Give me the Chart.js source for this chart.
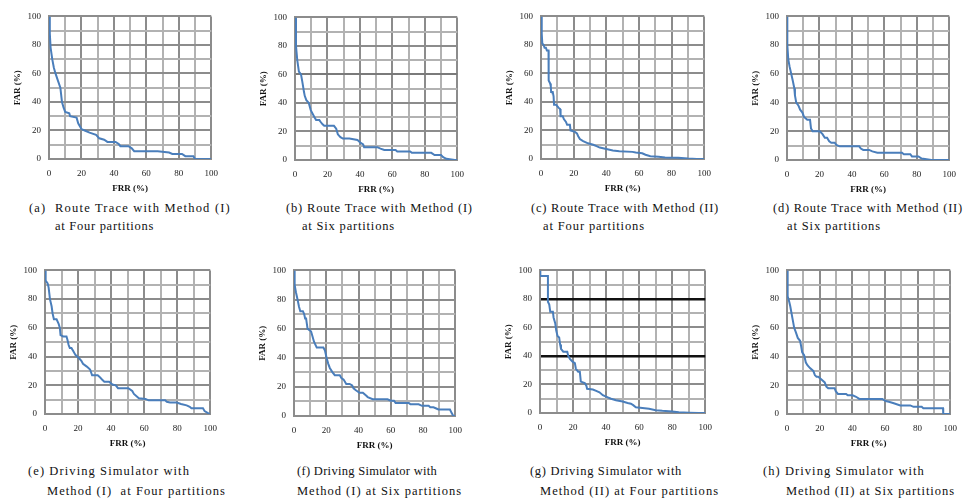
<!DOCTYPE html>
<html>
<head>
<meta charset="utf-8">
<script src="https://cdn.jsdelivr.net/npm/chart.js@4.4.1/dist/chart.umd.min.js"></script>
<style>
  body { margin: 0; width: 965px; height: 502px; background: #fff; position: relative; overflow: hidden; }
  canvas { position: absolute; }
  .cap { position: absolute; font-family: "Liberation Serif", "Times New Roman", serif; font-size: 12.5px;
         line-height: 15px; white-space: pre; color: #111; }
</style>
</head>
<body>
<script>
// FRR (x) / FAR (y) readings, in percent, for each of the eight panels

// (a) Route Trace, Method (I), four partitions
const aFrr = [0, 0.5, 1, 2, 3, 4, 5.5, 7, 8, 9, 10, 12.5, 13, 17, 18, 20, 22, 25, 29, 31, 34, 36, 41, 43, 44, 49, 51, 52.5, 67, 74, 76, 82, 84, 89, 90, 100];
const aFar = [100, 88, 78, 70, 64, 60, 55, 50, 40, 36, 33, 32, 30, 29, 25, 21, 20, 18.5, 17, 14.5, 13.5, 12, 12, 10.5, 9, 9, 7.5, 5.5, 5.5, 4.5, 3.5, 3.5, 2, 2, 0, 0];

// (b) Route Trace, Method (I), six partitions
const bFrr = [0, 0.6, 1.4, 2.4, 3.7, 4.5, 5.5, 6, 7, 8.5, 9.7, 12, 13, 15, 15.6, 17, 18, 24, 25.4, 26.4, 28, 29.5, 33.5, 38.5, 40.5, 42, 42.6, 50.7, 52.7, 55, 62, 63, 71, 72, 84, 86, 90, 91.3, 93.3, 98.5, 100];
const bFar = [100, 80, 70, 62, 60, 55, 48, 45, 42, 40, 35, 30, 28, 28, 27, 25, 24, 24, 22, 18, 16, 15, 15, 14, 12, 11, 9, 9, 8, 7, 7, 6, 6, 5, 5, 3.5, 3.5, 2, 0.8, 0, 0];

// (c) Route Trace, Method (II), four partitions
const cFrr = [0, 0.3, 0.6, 0.8, 1.6, 2.2, 3, 3.6, 4.6, 4.7, 5.6, 6, 6.2, 7.2, 7.7, 8, 9.3, 10.7, 11.7, 12, 13.3, 14, 15.3, 16, 17.7, 18.1, 20.8, 22, 22.8, 23.8, 25.8, 28.8, 32, 34, 36, 40, 44, 48, 56, 58, 62, 64, 67, 72, 76, 84, 90, 95.5, 100];
const cFar = [100, 88, 88, 81, 80, 78, 78, 76, 76, 55, 53, 51, 47, 47, 44, 38, 38, 36, 35, 30, 30, 28, 26, 24, 24, 20, 19, 18, 16, 14, 12.5, 11, 10, 9, 8, 7, 6, 5.5, 5, 4.5, 4, 3, 2, 1.5, 1, 0.8, 0.3, 0, 0];

// (d) Route Trace, Method (II), six partitions
const dFrr = [0, 0.2, 0.8, 1.6, 2.6, 3.6, 4.5, 4.9, 5.7, 7, 8.1, 9.5, 10.5, 12.5, 14.2, 14.8, 15.8, 20.2, 21.9, 23.3, 24.7, 26, 27.3, 29.4, 30.4, 32.4, 44.5, 45.5, 47, 50.6, 52.6, 55.7, 70.9, 72, 76, 77, 81, 83, 86, 89, 100];
const dFar = [100, 80, 70, 65, 60, 55, 50, 45, 40, 38, 35, 33, 30, 28, 28, 22, 20, 20, 18, 15.5, 15.5, 13, 12, 12, 10.5, 9.5, 9.5, 8, 7, 7, 6, 5, 5, 4, 4, 2.5, 2.5, 1, 0.5, 0, 0];

// (e) Driving Simulator, Method (I), four partitions
const eFrr = [0, 0.4, 1.6, 2.2, 3, 4, 4.6, 5.4, 7, 8.2, 9, 9.4, 11, 13, 13.5, 14.3, 15, 16, 17, 18.5, 20.5, 22, 23, 25.3, 27.3, 28.5, 31.9, 32.9, 34.5, 35.9, 38.8, 40.8, 42.8, 44.2, 50.4, 52.8, 53.8, 56.8, 60.8, 62.7, 72.7, 73.7, 75.7, 79.7, 82.3, 85.7, 87.6, 88.6, 95.6, 96.6, 99.6, 100];
const eFar = [100, 93, 91, 88, 80, 75, 70, 66, 66, 63, 60, 55, 54, 54, 52, 48, 46, 46, 44, 41, 39, 37, 35, 33, 31, 27, 27, 26, 24, 22.5, 22.5, 20.5, 20, 18, 18, 16, 14, 11, 10.5, 9.5, 9.5, 8.5, 8, 8, 7, 6, 5, 4, 4, 2, 0, 0];

// (f) Driving Simulator, Method (I), six partitions
const fFrr = [0, 0.4, 1.2, 2.2, 3.1, 3.9, 5.5, 6.3, 6.9, 7.5, 8.4, 9.6, 10.6, 11.4, 12.4, 14.1, 18.2, 19.2, 20.2, 21.2, 22.2, 23.9, 25.3, 28.4, 29.4, 30.8, 32.4, 34.5, 36.1, 36.9, 38.6, 40.6, 42.7, 44.7, 45.7, 48.8, 58, 60, 62, 63, 71.2, 72.2, 77.3, 79.4, 83.5, 84.5, 86.5, 88.6, 89.6, 96.7, 97.8, 98.8, 100];
const fFar = [100, 90, 85, 80, 75, 72, 72, 70, 67, 67, 60, 59, 58, 55, 51, 47, 47, 45, 40, 36, 33, 30, 28, 28, 26, 25, 22, 22, 21, 19, 17.5, 16, 16, 14, 13, 11.5, 11.5, 10.5, 10.5, 9, 9, 8, 8, 7, 7, 6, 6, 5, 4.5, 4.5, 2, 0, 0];

// (g) Driving Simulator, Method (II), four partitions
const gFrr = [0, 0.2, 4.8, 4.8, 5.6, 6.2, 7.8, 8.2, 9.2, 9.8, 10.6, 11.6, 12.2, 12.7, 14.1, 16.5, 17.1, 18.1, 19.7, 21.1, 21.7, 23.1, 24.1, 24.7, 27.1, 28.1, 28.5, 32, 34, 36, 38, 41, 43, 46, 50, 53, 55, 56.4, 58, 62, 66, 70, 74, 80, 84, 90, 96, 100];
const gFar = [100, 96, 96, 78, 76, 71, 71, 67, 63, 58, 54, 53, 48, 45, 43, 43, 40, 38, 36, 35, 31, 29, 29, 22, 21, 19, 17, 16.5, 15.5, 14.5, 12.5, 11, 10, 9, 8, 7, 6.5, 5.5, 4, 3.5, 3, 2, 1.5, 1, 0.5, 0.2, 0, 0];

// (h) Driving Simulator, Method (II), six partitions
const hFrr = [0, 0.2, 0.6, 1.4, 2, 2.8, 3.6, 4.4, 5.4, 6.6, 8, 8.7, 9.3, 10.5, 11.5, 12.5, 14.1, 16.1, 17.1, 18.1, 19.1, 21.1, 23.1, 24.1, 25.2, 29.2, 29.8, 31.2, 36.2, 37.2, 40.2, 42.3, 44.3, 58.4, 60.4, 62.4, 65.4, 69.4, 75.5, 77.5, 82.5, 83.5, 95.6, 95.7, 100];
const hFar = [100, 90, 82, 78, 75, 70, 65, 60, 57, 53, 51, 47, 43, 41, 36, 34, 32, 30, 27, 26, 26, 24, 22, 19, 18, 18, 16, 14, 14, 13, 13, 12, 10.5, 10.5, 9, 8.5, 7.5, 6, 6, 5, 5, 4, 4, 0, 0];

const tickLabels = [0, 20, 40, 60, 80, 100];
const xTitle = 'FRR (%)';
const yTitle = 'FAR (%)';

// layout: plot box in page px [left, top, right, bottom]; caption lines as [text, left, centreY, width]
const panels = [
  { frr: aFrr, far: aFar, box: [49, 11, 213, 159],
    cap: [['(a)  Route Trace with Method (I)', 29, 209, 202], ['at Four partitions', 55, 227, 99]] },
  { frr: bFrr, far: bFar, box: [295, 12, 459, 160], darkY: [60],
    cap: [['(b) Route Trace with Method (I)', 286, 209, 187], ['at Six partitions', 302, 227, 93]] },
  { frr: cFrr, far: cFar, box: [541, 11, 706, 159],
    cap: [['(c) Route Trace with Method (II)', 531, 209, 188], ['at Four partitions', 543, 227, 102]] },
  { frr: dFrr, far: dFar, box: [787, 11, 951, 160],
    cap: [['(d) Route Trace with Method (II)', 773, 209, 190], ['at Six partitions', 787, 227, 94]] },
  { frr: eFrr, far: eFar, box: [45, 265, 212, 414],
    cap: [['(e) Driving Simulator with', 28, 472, 162], ['Method (I)  at Four partitions', 47, 492, 179]] },
  { frr: fFrr, far: fFar, box: [294, 265, 457, 416],
    cap: [['(f) Driving Simulator with', 297, 472, 140], ['Method (I) at Six partitions', 297, 492, 165]] },
  { frr: gFrr, far: gFar, box: [540, 265, 707, 413], blackY: [40, 80],
    cap: [['(g) Driving Simulator with', 530, 472, 152], ['Method (II) at Four partitions', 540, 492, 179]] },
  { frr: hFrr, far: hFar, box: [787, 265, 952, 414],
    cap: [['(h) Driving Simulator with', 763, 472, 162], ['Method (II) at Six partitions', 786, 492, 169]] }
];

const PAD_L = 48, PAD_T = 8, PAD_R = 14, PAD_B = 36;
const serif = "'Liberation Serif', 'Times New Roman', serif";

function gridColor(v, p, isY) {
  if (isY && p.blackY && p.blackY.includes(v)) return '#111';
  if (isY && p.darkY && p.darkY.includes(v)) return '#7a7a7a';
  return v % 20 === 0 ? '#8c8c8c' : '#b2b2b2';
}

function axis(p, isY) {
  return {
    type: 'linear',
    min: 0,
    max: 100,
    afterFit: s => { if (isY) s.width = PAD_L; else s.height = PAD_B; },
    border: { display: true, color: '#8c8c8c', width: 2 },
    grid: {
      drawTicks: false,
      color: c => gridColor(c.tick ? c.tick.value : 0, p, isY),
      lineWidth: c => (isY && p.blackY && c.tick && p.blackY.includes(c.tick.value)) ? 2.5 : 2
    },
    ticks: {
      stepSize: 10,
      autoSkip: false,
      maxRotation: 0,
      padding: isY ? 8 : 9,
      color: '#222',
      font: { family: serif, size: 9 },
      callback: v => tickLabels.includes(v) ? String(v) : ''
    },
    title: {
      display: true,
      text: isY ? yTitle : xTitle,
      color: '#111',
      font: { family: serif, size: 9, weight: 'bold' },
      padding: isY ? { top: 11.6, bottom: 0 } : { top: 0, bottom: 1.1 }
    }
  };
}

panels.forEach(p => {
  const [l, t, r, b] = p.box;
  const cv = document.createElement('canvas');
  const w = (r - l) + PAD_L + PAD_R;
  const h = (b - t) + PAD_T + PAD_B;
  cv.width = w; cv.height = h;
  cv.style.left = (l - PAD_L) + 'px';
  cv.style.top = (t - PAD_T) + 'px';
  cv.style.width = w + 'px';
  cv.style.height = h + 'px';
  document.body.appendChild(cv);

  new Chart(cv, {
    type: 'line',
    data: {
      datasets: [{
        data: p.frr.map((x, i) => ({ x: x, y: p.far[i] })),
        borderColor: '#4a7ebb',
        borderWidth: 2,
        pointRadius: 0,
        tension: 0,
        fill: false
      }]
    },
    options: {
      responsive: false,
      animation: false,
      devicePixelRatio: 1,
      layout: { padding: { top: PAD_T, right: PAD_R, left: 0, bottom: 0 } },
      plugins: { legend: { display: false }, tooltip: { enabled: false } },
      scales: { x: axis(p, false), y: axis(p, true) }
    }
  });

  // caption lines, letter-spaced to the width they take in the original
  p.cap.forEach(([txt, x, cy, width]) => {
    const d = document.createElement('div');
    d.className = 'cap';
    d.textContent = txt;
    d.style.left = x + 'px';
    d.style.top = (cy - 8) + 'px';
    document.body.appendChild(d);
    const natural = d.getBoundingClientRect().width;
    const ls = (width - natural) / txt.length;
    d.style.letterSpacing = ls.toFixed(2) + 'px';
  });
});
</script>
</body>
</html>
